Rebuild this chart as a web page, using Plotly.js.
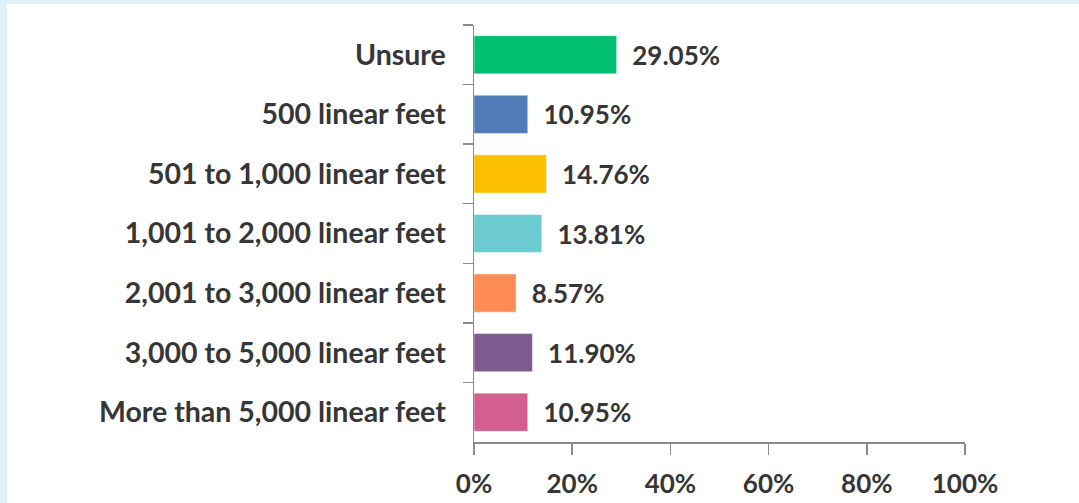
<!DOCTYPE html>
<html>
<head>
<meta charset="utf-8">
<script src="https://cdn.plot.ly/plotly-3.0.1.min.js"></script>
<style>
  html, body { margin: 0; padding: 0; background: #dff1fa; width: 1079px; height: 503px; overflow: hidden; }
  #chart { position: absolute; left: 7px; top: 4px; width: 1072px; height: 499px; background: #ffffff; }
</style>
</head>
<body>
<div id="chart"></div>
<script>
// Survey responses: planned length of shoreline / fencing, in percent
const categories = [
  "Unsure",
  "500 linear feet",
  "501 to 1,000 linear feet",
  "1,001 to 2,000 linear feet",
  "2,001 to 3,000 linear feet",
  "3,000 to 5,000 linear feet",
  "More than 5,000 linear feet"
];
const shares = [29.05, 10.95, 14.76, 13.81, 8.57, 11.90, 10.95];
const barColors = ["#00bf6f", "#4f7bb6", "#fbbf00", "#6ccbd0", "#ff8b55", "#7d5b90", "#d25f8d"];
const xTicks = [0, 20, 40, 60, 80, 100];

const family = "Lato, 'Open Sans', sans-serif";
const textFont = { family: family, size: 26, color: "#363636", weight: 700 };
const categoryFont = { family: family, size: 28.5, color: "#363636", weight: 700 };

const trace = {
  type: "bar",
  orientation: "h",
  y: categories,
  x: shares,
  marker: {
    color: barColors,
    line: { color: "rgba(255,255,255,0.45)", width: 1 }
  },
  text: shares.map(v => "  " + v.toFixed(2) + "%"),
  textposition: "outside",
  textfont: textFont,
  cliponaxis: false,
  hoverinfo: "skip"
};

const layout = {
  width: 1072,
  height: 499,
  margin: { l: 467, r: 114, t: 21, b: 61 },
  paper_bgcolor: "#ffffff",
  plot_bgcolor: "#ffffff",
  showlegend: false,
  bargap: 0.36,
  font: textFont,
  xaxis: {
    range: [0, 100],
    tickvals: xTicks,
    ticktext: xTicks.map(v => v + "%"),
    showgrid: false,
    zeroline: false,
    showline: true,
    linecolor: "#8c8c8c",
    linewidth: 1.5,
    ticks: "outside",
    ticklen: 11,
    tickcolor: "#8c8c8c",
    tickwidth: 1.5,
    tickfont: textFont,
    ticklabelstandoff: 7,
    fixedrange: true
  },
  yaxis: {
    autorange: "reversed",
    type: "category",
    showgrid: false,
    zeroline: false,
    showline: true,
    linecolor: "#8c8c8c",
    linewidth: 1.5,
    ticks: "outside",
    tickson: "boundaries",
    ticklen: 10,
    tickcolor: "#8c8c8c",
    tickwidth: 1.5,
    tickfont: categoryFont,
    ticklabelstandoff: 21,
    fixedrange: true
  }
};

Plotly.newPlot("chart", [trace], layout, { displayModeBar: false, staticPlot: true });
</script>
</body>
</html>
